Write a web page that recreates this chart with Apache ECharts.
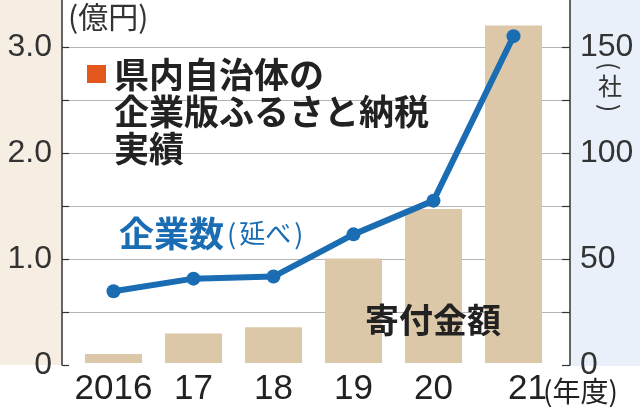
<!DOCTYPE html>
<html><head><meta charset="utf-8">
<script src="https://cdn.jsdelivr.net/npm/echarts@6/dist/echarts.min.js"></script>
<style>html,body{margin:0;padding:0;background:#fff}#c{width:640px;height:407px}</style>
</head><body><div id="c"></div>
<script>
const categories = ['2016', '17', '18', '19', '20', '21'];
const donationOku = [0.085, 0.28, 0.34, 0.99, 1.46, 3.2];
const companyCount = [34, 40, 41, 61, 77, 155];
const leftTicks = ['0', '1.0', '2.0', '3.0'];
const rightTicks = ['0', '50', '100', '150'];

const LEFT_MAX = 3.443, RIGHT_MAX = LEFT_MAX * 50;
const CJK = '"Noto Sans CJK JP", "Noto Sans", sans-serif';
const NUM = '"Liberation Sans", sans-serif';

const chart = echarts.init(document.getElementById('c'), null, {renderer: 'canvas'});
chart.setOption({
  backgroundColor: '#ffffff',
  animation: false,
  grid: [
    {left: 62, right: 70, top: 0, bottom: 42},
    {left: 73.5, right: 86.5, top: 0, bottom: 42}
  ],
  xAxis: [
    {type: 'value', gridIndex: 0, show: false, min: 0, max: 1},
    {type: 'category', gridIndex: 1, data: categories,
     axisLine: {show: false}, axisTick: {show: false},
     axisLabel: {
       interval: 0, hideOverlap: false,
       color: '#222', fontFamily: NUM, fontSize: 35, margin: 9,
       formatter: (v, i) => i === categories.length - 1 ? '{p|' + v + '}' : v,
       rich: {p: {fontFamily: NUM, fontSize: 35, color: '#222', padding: [0, 0, 0, 28]}}
     }}
  ],
  yAxis: [
    {type: 'value', gridIndex: 0, position: 'left', min: 0, max: LEFT_MAX, interval: 0.5,
     axisLine: {show: true, lineStyle: {color: '#333', width: 1.5}},
     axisTick: {show: true, inside: true, length: 7, lineStyle: {color: '#333', width: 1.2}},
     splitLine: {show: true, showMinLine: false, showMaxLine: false, lineStyle: {color: '#b5b5b5', width: 1}},
     axisLabel: {color: '#333', fontFamily: NUM, fontSize: 32, margin: 10, showMaxLabel: false,
       formatter: v => { const s = v === 0 ? '0' : (Math.abs(v - Math.round(v)) < 1e-6 ? v.toFixed(1) : ''); return leftTicks.includes(s) ? s : ''; }}},
    {type: 'value', gridIndex: 0, position: 'right', min: 0, max: RIGHT_MAX, interval: 25,
     axisLine: {show: true, lineStyle: {color: '#333', width: 1.5}},
     axisTick: {show: true, inside: true, length: 8, lineStyle: {color: '#333', width: 1.2}},
     splitLine: {show: false},
     axisLabel: {color: '#333', fontFamily: NUM, fontSize: 32, margin: 10, showMaxLabel: false,
       formatter: v => { const s = String(Math.round(v)); return (Math.abs(v % 50) < 1e-6 && rightTicks.includes(s)) ? s : ''; }}},
    {type: 'value', gridIndex: 1, show: false, min: 0, max: LEFT_MAX},
    {type: 'value', gridIndex: 1, show: false, min: 0, max: RIGHT_MAX}
  ],
  series: [
    {type: 'bar', xAxisIndex: 1, yAxisIndex: 2, data: donationOku, barWidth: 57,
     itemStyle: {color: '#dcc8a8'}, z: 2},
    {type: 'line', xAxisIndex: 1, yAxisIndex: 3, data: companyCount,
     lineStyle: {color: '#1a6db3', width: 6}, itemStyle: {color: '#1a6db3'},
     symbol: 'circle', symbolSize: 14, z: 3}
  ],
  graphic: [
    {type: 'rect', left: 0, top: 0, z: -1, shape: {width: 62, height: 365}, style: {fill: '#f6eee3'}},
    {type: 'rect', left: 570, top: 0, z: -1, shape: {width: 70, height: 366}, style: {fill: '#e9f0fa'}},
    {type: 'text', left: 68, top: 2, z: 100, style: {text: '(億円)', font: 'normal 30px ' + CJK, fill: '#333'}},
    {type: 'rect', left: 87, top: 65, z: 100, shape: {width: 19, height: 18}, style: {fill: '#e4571c'}},
    {type: 'text', left: 114, top: 56, z: 100, style: {text: '県内自治体の\n企業版ふるさと納税\n実績', font: 'bold 35px ' + CJK, lineHeight: 37, fill: '#222'}},
    {type: 'text', left: 119, top: 216, z: 100, style: {
      text: '{a|企業数}{p|(}{b|延べ}{p|)}',
      rich: {a: {font: 'bold 35px ' + CJK, fill: '#1a6db3'},
             b: {font: 'normal 26px ' + CJK, fill: '#1a6db3'},
             p: {font: 'normal 27px ' + CJK, fill: '#1a6db3', padding: [0, 3, 0, 3]}}}},
    {type: 'text', left: 365, top: 303, z: 100, style: {text: '寄付金額', font: 'bold 34px ' + CJK, fill: '#222'}},
    {type: 'text', left: 543, top: 377, z: 100, style: {text: '(年度)', font: 'normal 28px ' + CJK, fill: '#222'}},
    {type: 'text', x: 610, y: 66, rotation: -Math.PI / 2, z: 100, style: {text: '(', font: 'normal 24px ' + CJK, fill: '#333', align: 'center', verticalAlign: 'middle'}},
    {type: 'text', x: 610, y: 86, z: 100, style: {text: '社', font: 'normal 24px ' + CJK, fill: '#333', align: 'center', verticalAlign: 'middle'}},
    {type: 'text', x: 610, y: 108, rotation: -Math.PI / 2, z: 100, style: {text: ')', font: 'normal 24px ' + CJK, fill: '#333', align: 'center', verticalAlign: 'middle'}}
  ]
});
</script></body></html>
